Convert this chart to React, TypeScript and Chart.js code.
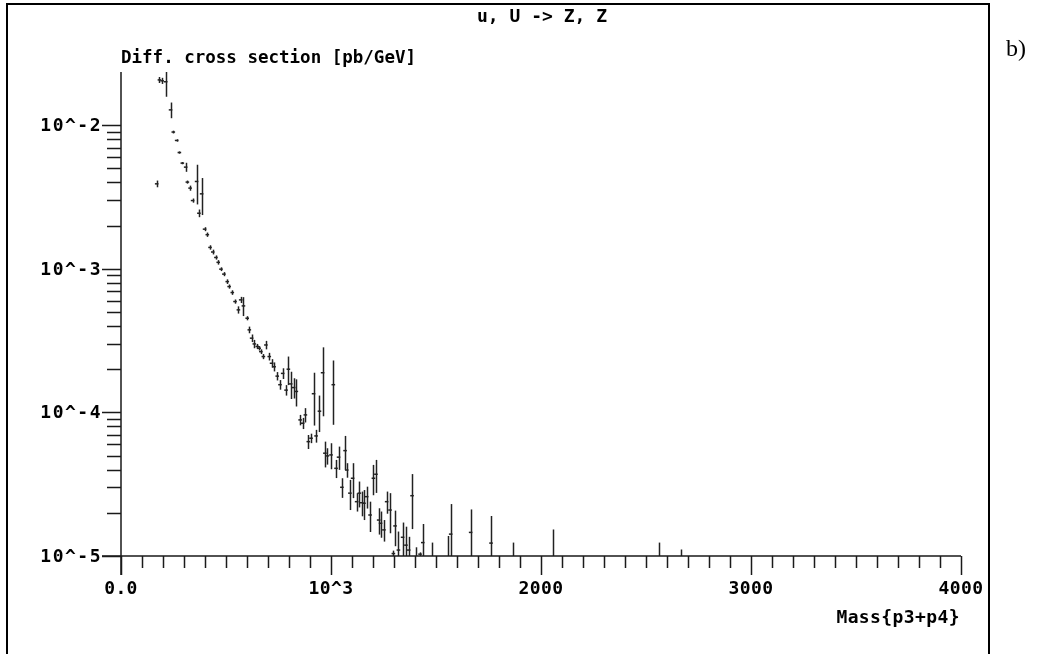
import { useEffect, useRef } from "react";
import { Chart, registerables } from "chart.js";

Chart.register(...registerables);

// Mass bin centres [GeV]
const massBins = [
  170, 183, 196, 213, 236, 249, 265, 278, 292, 308, 316, 329, 341, 360, 371, 384,
  398, 411, 424, 437, 452, 463, 476, 490, 506, 515, 530, 543, 559, 570, 583, 601,
  611, 622, 635, 649, 658, 666, 678, 690, 706, 717, 729, 744, 757, 770, 786, 797,
  808, 822, 835, 853, 865, 878, 892, 905, 917, 929, 945, 960, 971, 983, 1000, 1011,
  1024, 1036, 1052, 1067, 1075, 1090, 1103, 1122, 1135, 1146, 1157, 1170, 1186, 1202,
  1214, 1227, 1236, 1252, 1265, 1281, 1297, 1305, 1321, 1341, 1357, 1370, 1386, 1405,
  1424, 1437, 1479, 1557, 1570, 1665, 1762, 1868, 2055, 2563, 2668,
];

// Differential cross section [pb/GeV]
const xsec = [
  3.91e-3, 2.07e-2, 2.04e-2, 2.01e-2, 1.28e-2, 8.97e-3, 7.84e-3, 6.46e-3, 5.45e-3, 5.11e-3,
  4.02e-3, 3.65e-3, 2.99e-3, 4.06e-3, 2.44e-3, 3.33e-3, 1.89e-3, 1.73e-3, 1.41e-3, 1.31e-3,
  1.2e-3, 1.11e-3, 9.95e-4, 9.19e-4, 8.15e-4, 7.53e-4, 6.84e-4, 5.92e-4, 5.18e-4, 6.08e-4,
  5.52e-4, 4.53e-4, 3.76e-4, 3.29e-4, 3.0e-4, 2.88e-4, 2.8e-4, 2.65e-4, 2.45e-4, 2.95e-4,
  2.45e-4, 2.2e-4, 2.08e-4, 1.79e-4, 1.56e-4, 1.87e-4, 1.43e-4, 2.0e-4, 1.58e-4, 1.49e-4,
  1.4e-4, 8.87e-5, 8.41e-5, 9.61e-5, 6.26e-5, 6.61e-5, 1.35e-4, 6.86e-5, 1.02e-4, 1.89e-4,
  5.2e-5, 4.98e-5, 5.06e-5, 1.56e-4, 4.08e-5, 4.88e-5, 3.01e-5, 5.42e-5, 3.97e-5, 2.74e-5,
  3.48e-5, 2.39e-5, 2.74e-5, 2.35e-5, 2.33e-5, 2.59e-5, 1.93e-5, 3.48e-5, 3.71e-5, 1.78e-5,
  1.69e-5, 1.52e-5, 2.39e-5, 2.09e-5, 1.04e-5, 1.62e-5, 1.1e-5, 1.35e-5, 1.19e-5, 1.1e-5,
  2.63e-5, 8.0e-6, 1.03e-5, 1.24e-5, 7.0e-6, 7.0e-6, 1.42e-5, 1.46e-5, 1.23e-5, 6.0e-6,
  7.0e-6, 6.0e-6, 6.0e-6,
];

// Statistical error (±) [pb/GeV]
const xsecErr = [
  2.1e-4, 1.0e-3, 1.0e-3, 4.3e-3, 1.6e-3, 2.0e-4, 1.5e-4, 1.2e-4, 1.0e-4, 3.7e-4,
  1.0e-4, 1.5e-4, 1.0e-4, 1.25e-3, 1.5e-4, 9.6e-4, 6.0e-5, 6.0e-5, 5.0e-5, 5.0e-5,
  4.0e-5, 4.0e-5, 3.0e-5, 3.0e-5, 3.0e-5, 2.5e-5, 2.5e-5, 2.0e-5, 3.0e-5, 3.0e-5,
  8.3e-5, 1.5e-5, 2.0e-5, 2.0e-5, 2.0e-5, 1.2e-5, 1.0e-5, 1.0e-5, 1.0e-5, 2.0e-5,
  1.5e-5, 1.5e-5, 1.5e-5, 1.2e-5, 1.2e-5, 1.6e-5, 1.2e-5, 4.5e-5, 3.4e-5, 2.4e-5,
  3.0e-5, 7.4e-6, 7.5e-6, 1.1e-5, 7.0e-6, 5.0e-6, 5.4e-5, 7.0e-6, 2.9e-5, 9.5e-5,
  1.06e-5, 6.5e-6, 1.04e-5, 7.4e-5, 5.9e-6, 9.0e-6, 4.7e-6, 1.44e-5, 4.6e-6, 6.5e-6,
  9.5e-6, 3.5e-6, 5.6e-6, 4.6e-6, 5.5e-6, 4.5e-6, 4.6e-6, 8.3e-6, 9.6e-6, 3.7e-6,
  3.5e-6, 2.6e-6, 4.2e-6, 6.5e-6, 5.0e-7, 4.5e-6, 3.8e-6, 3.6e-6, 4.1e-6, 2.6e-6,
  1.09e-5, 3.5e-6, 3.0e-7, 4.3e-6, 5.4e-6, 6.8e-6, 8.8e-6, 6.5e-6, 6.7e-6, 6.4e-6,
  8.3e-6, 6.4e-6, 5.1e-6,
];

const xTickValues = [0, 1000, 2000, 3000, 4000];
const xTickLabels = ["0.0", "10^3", "2000", "3000", "4000"];
const yTickValues = [1e-2, 1e-3, 1e-4, 1e-5];
const yTickLabels = ["10^-2", "10^-3", "10^-4", "10^-5"];

const titleText = "u, U -> Z, Z";
const yTitleText = "Diff. cross section [pb/GeV]";
const xTitleText = "Mass{p3+p4}";
const panelTag = "b)";

const INK = "#1a1a1a";
const FAMILY = "'DejaVu Sans Mono', 'Liberation Mono', monospace";

const errorBarPlugin = {
  id: "errorBars",
  afterDatasetsDraw(chart: any) {
    const { ctx, chartArea } = chart;
    const xs = chart.scales.x;
    const ys = chart.scales.y;
    ctx.save();
    ctx.beginPath();
    ctx.rect(chartArea.left, chartArea.top, chartArea.right - chartArea.left, chartArea.bottom - chartArea.top);
    ctx.clip();
    ctx.strokeStyle = "#222";
    ctx.lineWidth = 1.5;
    for (let i = 0; i < massBins.length; i++) {
      const v = xsec[i];
      const e = xsecErr[i];
      const px = Math.round(xs.getPixelForValue(massBins[i])) + 0.5;
      const top = ys.getPixelForValue(v + e);
      const lo = v - e > 0 ? ys.getPixelForValue(v - e) : chartArea.bottom + 5;
      ctx.beginPath();
      ctx.moveTo(px, top);
      ctx.lineTo(px, lo);
      ctx.stroke();
    }
    ctx.restore();
  },
};

const framePlugin = {
  id: "paFrame",
  afterDraw(chart: any) {
    const { ctx, chartArea } = chart;
    const xs = chart.scales.x;
    const ys = chart.scales.y;
    const L = chartArea.left;
    const R = chartArea.right;
    const T = chartArea.top;
    const B = chartArea.bottom;
    ctx.save();

    // outer frame
    ctx.strokeStyle = "#000";
    ctx.lineWidth = 2;
    ctx.strokeRect(7, 4, 982, 720);

    // axes
    ctx.strokeStyle = INK;
    ctx.lineWidth = 1.5;
    ctx.beginPath();
    ctx.moveTo(L, T);
    ctx.lineTo(L, B + 19);
    ctx.moveTo(L - 19, B);
    ctx.lineTo(R, B);
    ctx.stroke();

    // x ticks
    ctx.beginPath();
    for (let m = 0; m <= 4000; m += 100) {
      const px = Math.round(xs.getPixelForValue(m)) + 0.5;
      const len = m % 1000 === 0 ? 19 : 12;
      ctx.moveTo(px, B);
      ctx.lineTo(px, B + len);
    }
    // y ticks
    for (let d = 0; d < yTickValues.length; d++) {
      const dec = yTickValues[d];
      const py = Math.round(ys.getPixelForValue(dec)) + 0.5;
      ctx.moveTo(L - 19, py);
      ctx.lineTo(L, py);
      if (d < yTickValues.length - 1) {
        const low = yTickValues[d + 1];
        for (let k = 2; k <= 9; k++) {
          const mp = Math.round(ys.getPixelForValue(low * k)) + 0.5;
          ctx.moveTo(L - 14, mp);
          ctx.lineTo(L, mp);
        }
      }
    }
    ctx.stroke();

    // labels
    ctx.fillStyle = "#000";
    ctx.textBaseline = "middle";
    ctx.font = `bold 18px ${FAMILY}`;
    ctx.textAlign = "right";
    (ctx as any).letterSpacing = "1.5px";
    for (let d = 0; d < yTickValues.length; d++) {
      ctx.fillText(yTickLabels[d], L - 19, ys.getPixelForValue(yTickValues[d]) + 1);
    }
    (ctx as any).letterSpacing = "0.4px";
    ctx.textAlign = "center";
    for (let i = 0; i < xTickValues.length; i++) {
      ctx.fillText(xTickLabels[i], xs.getPixelForValue(xTickValues[i]), B + 33);
    }
    ctx.textAlign = "right";
    ctx.fillText(xTitleText, R - 1, B + 62);
    (ctx as any).letterSpacing = "0px";
    ctx.font = `bold 17.5px ${FAMILY}`;
    ctx.textAlign = "left";
    ctx.fillText(yTitleText, L, 58);
    ctx.font = `bold 18px ${FAMILY}`;
    ctx.textAlign = "center";
    ctx.fillText(titleText, 542, 17);

    ctx.font = "24px 'Liberation Serif', 'Times New Roman', serif";
    ctx.textAlign = "left";
    ctx.fillText(panelTag, 1006, 50);
    ctx.restore();
  },
};

export default function App() {
  const ref = useRef<HTMLCanvasElement | null>(null);
  useEffect(() => {
    const canvas = ref.current;
    if (!canvas) return;
    const points = massBins.map((m, i) => ({ x: m, y: xsec[i] }));
    const chart = new Chart(canvas, {
      type: "scatter",
      data: {
        datasets: [
          {
            data: points,
            pointStyle: "line",
            pointRadius: 1.8,
            pointBorderWidth: 1.5,
            pointBorderColor: "#222",
            pointBackgroundColor: "#222",
            showLine: false,
          },
        ],
      },
      options: {
        animation: false,
        responsive: false,
        devicePixelRatio: 1,
        layout: { padding: { left: 121, right: 77, top: 72, bottom: 98 } },
        plugins: { legend: { display: false }, tooltip: { enabled: false }, title: { display: false } },
        events: [],
        scales: {
          x: { type: "linear", min: 0, max: 4000, display: false },
          y: { type: "logarithmic", min: 1e-5, max: 0.0235, display: false },
        },
      },
      plugins: [errorBarPlugin, framePlugin],
    } as any);
    return () => chart.destroy();
  }, []);
  return (
    <div style={{ position: "absolute", left: 0, top: 0, width: 1038, height: 654, background: "#fff" }}>
      <canvas ref={ref} width={1038} height={654} style={{ display: "block" }} />
    </div>
  );
}
